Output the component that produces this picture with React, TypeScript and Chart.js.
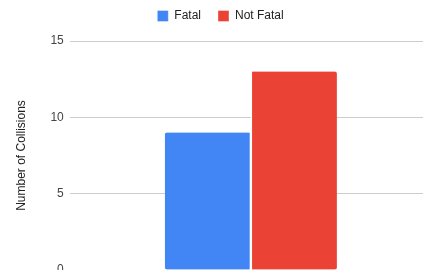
import React, { useEffect, useRef } from "react";
import { Chart, registerables } from "chart.js";

Chart.register(...registerables);

const categories = ["Collisions"];
const fatalValues = [9];
const notFatalValues = [13];
const seriesLabels = ["Fatal", "Not Fatal"];
const yTicks = [0, 5, 10, 15];

const FONT = "Liberation Sans, Arial, sans-serif";

const legendTweak = {
  id: "legendTweak",
  afterLayout(chart: any) {
    const lg = chart.legend;
    if (!lg) return;
    const h = lg.height;
    lg.top = -7;
    lg.bottom = lg.top + h;
    lg.left -= 5;
  },
};

export default function App() {
  const ref = useRef<HTMLCanvasElement | null>(null);
  useEffect(() => {
    document.body.style.margin = "0";
    const chart = new Chart(ref.current!, {
      type: "bar",
      data: {
        labels: categories,
        datasets: [
          {
            label: seriesLabels[0],
            data: fatalValues,
            backgroundColor: "#4285f4",
            borderColor: "#ffffff",
            borderWidth: { left: 0, right: 1.5, top: 0, bottom: 0 },
            borderSkipped: false,
            borderRadius: 2,
            barThickness: 86,
          },
          {
            label: seriesLabels[1],
            data: notFatalValues,
            backgroundColor: "#ea4335",
            borderColor: "#ffffff",
            borderWidth: { left: 1.5, right: 0, top: 0, bottom: 0 },
            borderSkipped: false,
            borderRadius: 2,
            barThickness: 86,
          },
        ],
      },
      options: {
        animation: false,
        responsive: false,
        maintainAspectRatio: false,
        layout: { padding: { left: 14, right: 8, top: 2, bottom: 20 } },
        plugins: {
          legend: {
            position: "top",
            align: "center",
            labels: {
              boxWidth: 11,
              boxHeight: 11,
              padding: 17,
              color: "#222",
              font: { family: FONT, size: 12 },
            },
          },
          tooltip: { enabled: false },
        },
        scales: {
          x: {
            ticks: { display: false },
            grid: { display: false, drawTicks: false },
            border: { display: true, color: "#777", width: 1 },
          },
          y: {
            min: yTicks[0],
            max: yTicks[yTicks.length - 1],
            afterBuildTicks: (axis: any) => {
              axis.ticks = yTicks.map((v) => ({ value: v }));
            },
            ticks: {
              color: "#444",
              padding: 6,
              font: { family: FONT, size: 12 },
            },
            grid: { color: "#cccccc", drawTicks: false },
            border: { display: false },
            title: {
              display: true,
              text: "Number of Collisions",
              color: "#222",
              font: { family: FONT, size: 12 },
              padding: { top: 0, bottom: 16 },
            },
          },
        },
      },
      plugins: [legendTweak],
    });
    return () => chart.destroy();
  }, []);
  return (
    <div style={{ position: "absolute", left: 0, top: 0, width: 423, height: 270, overflow: "hidden" }}>
      <canvas ref={ref} width={440} height={290} style={{ width: 440, height: 290, display: "block" }} />
    </div>
  );
}
